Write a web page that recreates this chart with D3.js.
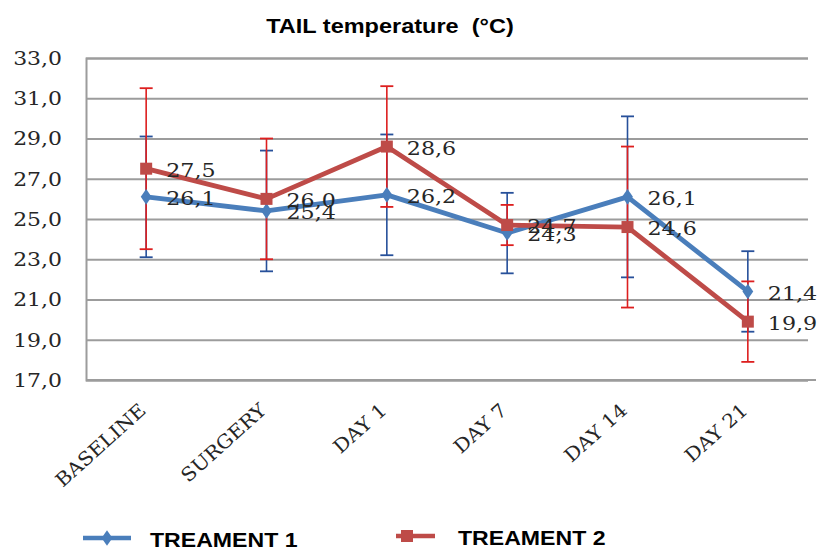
<!DOCTYPE html>
<html>
<head>
<meta charset="utf-8">
<script src="https://cdn.jsdelivr.net/npm/d3@7"></script>
<style>
  html, body { margin: 0; padding: 0; background: #fff; }
  svg { display: block; }
</style>
</head>
<body>
<script>
const categories = ["BASELINE", "SURGERY", "DAY 1", "DAY 7", "DAY 14", "DAY 21"];
const treatment1 = [26.1, 25.4, 26.2, 24.3, 26.1, 21.4];
const treatment1Err = [3.0, 3.0, 3.0, 2.0, 4.0, 2.0];
const treatment2 = [27.5, 26.0, 28.6, 24.7, 24.6, 19.9];
const treatment2Err = [4.0, 3.0, 3.0, 1.0, 4.0, 2.0];
const yTicks = [17, 19, 21, 23, 25, 27, 29, 31, 33];
const seriesNames = ["TREAMENT 1", "TREAMENT 2"];
const title = "TAIL temperature  (°C)";

const W = 824, H = 551;
const plot = { left: 86, right: 808, top: 58, bottom: 380 };

const svg = d3.select("body").append("svg").attr("width", W).attr("height", H);

const x = d3.scaleBand().domain(categories).range([plot.left, plot.right]).padding(0);
const y = d3.scaleLinear().domain([17, 33]).range([plot.bottom, plot.top]);
const cx = c => x(c) + x.bandwidth() / 2;
const fmt = v => d3.format(".1f")(v).replace(".", ",");

const blueLine = "#4A7EBB", redLine = "#BE4B48";
const blueErr = "#27509A", redErr = "#DD1F1F";
const gridCol = "#9C9C9C";

// Y axis with gridlines
const yAxis = d3.axisLeft(y).tickValues(yTicks).tickSize(-(plot.right - plot.left)).tickFormat(fmt);
const yg = svg.append("g").attr("transform", `translate(${plot.left},0)`).call(yAxis);
yg.select(".domain").attr("stroke", gridCol).attr("stroke-width", 2);
yg.selectAll(".tick line").attr("stroke", gridCol).attr("stroke-width", 1.8);
yg.selectAll(".tick text")
  .attr("x", 0).attr("dy", "0.36em")
  .attr("text-anchor", "end")
  .attr("transform", "translate(-24,0) scale(1.22,1)")
  .attr("font-family", "DejaVu Serif").attr("font-size", 18).attr("fill", "#262626");

// X axis
const xAxis = d3.axisBottom(x).tickSize(0);
const xg = svg.append("g").attr("transform", `translate(0,${plot.bottom})`).call(xAxis);
xg.select(".domain").attr("stroke", gridCol).attr("stroke-width", 2).attr("d", `M${plot.left},0H${plot.right + 8}`);
xg.selectAll(".tick text")
  .attr("x", 0).attr("y", 0).attr("dy", 0)
  .attr("text-anchor", "end")
  .attr("transform", "translate(1,32) rotate(-42) scale(1.08,1)")
  .attr("font-family", "DejaVu Serif").attr("font-size", 19).attr("fill", "#262626");

// Error bars
function errorBars(vals, errs, color) {
  const g = svg.append("g");
  categories.forEach((c, i) => {
    const xc = cx(c), y1 = y(vals[i] + errs[i]), y2 = y(vals[i] - errs[i]);
    g.append("line").attr("x1", xc).attr("x2", xc).attr("y1", y1).attr("y2", y2)
      .attr("stroke", color).attr("stroke-width", 1.6);
    [y1, y2].forEach(yy => g.append("line").attr("x1", xc - 6.5).attr("x2", xc + 6.5)
      .attr("y1", yy).attr("y2", yy).attr("stroke", color).attr("stroke-width", 1.8));
  });
}
errorBars(treatment1, treatment1Err, blueErr);
errorBars(treatment2, treatment2Err, redErr);

const line = d3.line().x((d, i) => cx(categories[i])).y(d => y(d));

// Series 1
svg.append("path").datum(treatment1).attr("d", line).attr("fill", "none")
  .attr("stroke", blueLine).attr("stroke-width", 4.8).attr("stroke-linejoin", "round");
const diamond = d3.symbol().type(d3.symbolDiamond).size(70);
svg.append("g").selectAll("path").data(treatment1).join("path")
  .attr("d", diamond).attr("fill", blueLine)
  .attr("transform", (d, i) => `translate(${cx(categories[i])},${y(d)}) scale(1.2,1)`);

// Series 2
svg.append("path").datum(treatment2).attr("d", line).attr("fill", "none")
  .attr("stroke", redLine).attr("stroke-width", 4.8).attr("stroke-linejoin", "round");
svg.append("g").selectAll("rect").data(treatment2).join("rect")
  .attr("x", (d, i) => cx(categories[i]) - 6).attr("y", d => y(d) - 6)
  .attr("width", 12).attr("height", 12).attr("fill", redLine);

// Data labels
function labels(vals) {
  svg.append("g").selectAll("text").data(vals).join("text")
    .attr("transform", (d, i) => `translate(${cx(categories[i]) + 20},${y(d) + 1.5}) scale(1.2,1)`)
    .attr("dy", "0.36em")
    .attr("font-family", "DejaVu Serif").attr("font-size", 18.5).attr("fill", "#262626")
    .text(d => fmt(d));
}
labels(treatment1);
labels(treatment2);

// Title
svg.append("text")
  .attr("transform", `translate(390,33) scale(1.12,1)`)
  .attr("text-anchor", "middle")
  .style("white-space", "pre")
  .attr("font-family", "Liberation Sans, Arial, sans-serif").attr("font-weight", "bold")
  .attr("font-size", 21).attr("fill", "#000").text(title);

// Legend
const lg = svg.append("g");
lg.append("line").attr("x1", 83).attr("x2", 131).attr("y1", 538).attr("y2", 538)
  .attr("stroke", blueLine).attr("stroke-width", 4.5);
lg.append("path").attr("d", diamond).attr("fill", blueLine).attr("transform", "translate(107,538) scale(1.2,1)");
lg.append("text").attr("transform", "translate(150,547) scale(1.1,1)")
  .attr("font-family", "Liberation Sans, Arial, sans-serif").attr("font-weight", "bold")
  .attr("font-size", 21).attr("fill", "#000").text(seriesNames[0]);

lg.append("line").attr("x1", 396).attr("x2", 435).attr("y1", 536).attr("y2", 536)
  .attr("stroke", redLine).attr("stroke-width", 4.5);
lg.append("rect").attr("x", 401).attr("y", 530).attr("width", 12).attr("height", 12).attr("fill", redLine);
lg.append("text").attr("transform", "translate(458,545) scale(1.1,1)")
  .attr("font-family", "Liberation Sans, Arial, sans-serif").attr("font-weight", "bold")
  .attr("font-size", 21).attr("fill", "#000").text(seriesNames[1]);
</script>
</body>
</html>
